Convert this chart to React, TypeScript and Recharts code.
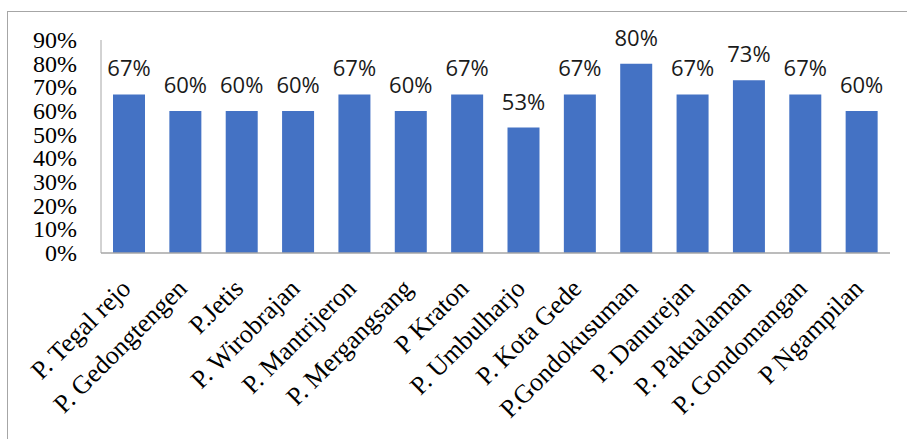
import React from 'react';
import { BarChart, Bar, XAxis, YAxis, LabelList } from 'recharts';

// Share of each district (percent)
const districts = [
  'P. Tegal rejo',
  'P. Gedongtengen',
  'P.Jetis',
  'P. Wirobrajan',
  'P. Mantrijeron',
  'P. Mergangsang',
  'P Kraton',
  'P. Umbulharjo',
  'P. Kota Gede',
  'P.Gondokusuman',
  'P. Danurejan',
  'P. Pakualaman',
  'P. Gondomangan',
  'P Ngampilan',
];

const percentages = [67, 60, 60, 60, 67, 60, 67, 53, 67, 80, 67, 73, 67, 60];

const yTicks = [0, 10, 20, 30, 40, 50, 60, 70, 80, 90];

const data = districts.map((name, i) => ({ name, value: percentages[i] }));

const SERIF = "'Liberation Serif', 'Times New Roman', serif";
const SANS = "'Open Sans', 'Noto Sans', sans-serif";

// District names, rotated 45° and ending just under each bar
const DistrictTick = (props: any) => {
  const { x, y, payload } = props;
  const tx = x + 3;
  const ty = y + 37;
  return (
    <text
      x={tx}
      y={ty}
      transform={`rotate(-45, ${tx}, ${ty})`}
      textAnchor="end"
      fontFamily={SERIF}
      fontSize={26}
      fill="#000"
    >
      {payload.value}
    </text>
  );
};

const PercentTick = (props: any) => {
  const { x, y, payload } = props;
  return (
    <text
      x={x}
      y={y + 8}
      textAnchor="end"
      fontFamily={SERIF}
      fontSize={24}
      fill="#000"
    >
      {`${payload.value}%`}
    </text>
  );
};

const ValueLabel = (props: any) => {
  const { x, y, width, value } = props;
  return (
    <text
      x={x + width / 2}
      y={y - 18}
      textAnchor="middle"
      fontFamily={SANS}
      fontSize={22}
      fill="#1a1a1a"
    >
      {`${value}%`}
    </text>
  );
};

export default function App() {
  return (
    <div style={{ position: 'absolute', left: 0, top: 0, width: 907, height: 439, background: '#fff', overflow: 'hidden' }}>
      <div
        style={{
          position: 'absolute',
          left: 7,
          top: 11,
          width: 900,
          height: 428,
          borderLeft: '1px solid #a6a6a6',
          borderTop: '1px solid #a6a6a6',
          boxSizing: 'border-box',
        }}
      />
      <div style={{ position: 'absolute', left: 0, top: 0 }}>
        <BarChart
          width={907}
          height={439}
          data={data}
          margin={{ top: 40, right: 17, left: 0, bottom: 0 }}
          barSize={32}
        >
          <XAxis
            dataKey="name"
            height={186}
            interval={0}
            tickLine={false}
            tickSize={0}
            tickMargin={0}
            axisLine={{ stroke: '#a6a6a6', strokeWidth: 1.5 }}
            tick={<DistrictTick />}
          />
          <YAxis
            width={101}
            domain={[0, 90]}
            ticks={yTicks}
            interval={0}
            tickLine={false}
            tickSize={0}
            tickMargin={24}
            axisLine={{ stroke: '#a6a6a6' }}
            tick={<PercentTick />}
          />
          <Bar dataKey="value" fill="#4472C4" isAnimationActive={false}>
            <LabelList dataKey="value" content={<ValueLabel />} />
          </Bar>
        </BarChart>
      </div>
    </div>
  );
}
